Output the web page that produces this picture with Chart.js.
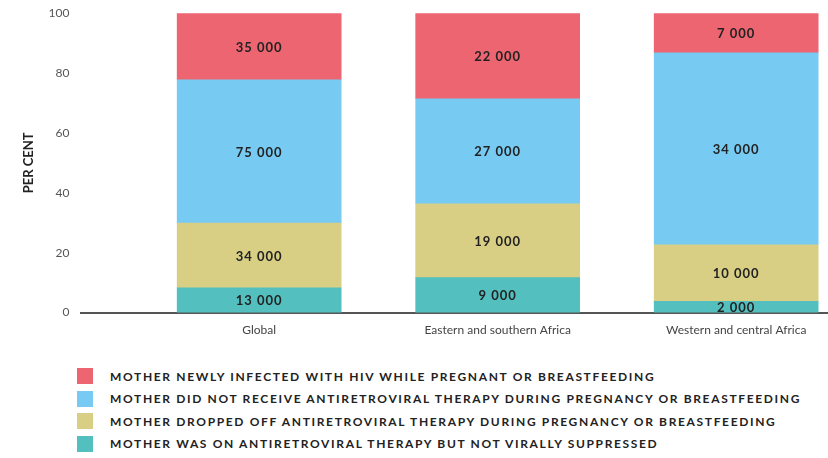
<!DOCTYPE html>
<html>
<head>
<meta charset="utf-8">
<script src="https://cdn.jsdelivr.net/npm/chart.js@4"></script>
<style>
  body { margin: 0; background: #fff; font-family: Lato, "Open Sans", sans-serif; }
  #wrap { position: relative; width: 828px; height: 458px; overflow: hidden; }
  #chartBox { position: absolute; left: 0; top: -6px; width: 828px; height: 353px; }
  #legend { position: absolute; left: 77px; top: 365px; }
  .item { height: 22.5px; display: flex; align-items: center; }
  .box { width: 16px; height: 16px; margin-right: 17px; }
  .txt { font-weight: bold; font-size: 12px; letter-spacing: 1.65px; color: #222; }
</style>
</head>
<body>
<div id="wrap">
  <div id="chartBox"><canvas id="grafico"></canvas></div>
  <div id="legend"></div>
</div>
<script>
// categorias e valores (numero de criancas)
const categorias = ['Global', 'Eastern and southern Africa', 'Western and central Africa'];
const naoSuprimida = [13000, 9000, 2000];
const abandonou = [34000, 19000, 10000];
const naoRecebeu = [75000, 27000, 34000];
const novaInfeccao = [35000, 22000, 7000];
const ticksY = [0, 20, 40, 60, 80, 100];

const series = [
  { label: 'MOTHER WAS ON ANTIRETROVIRAL THERAPY BUT NOT VIRALLY SUPPRESSED', valores: naoSuprimida, cor: '#53bfbf' },
  { label: 'MOTHER DROPPED OFF ANTIRETROVIRAL THERAPY DURING PREGNANCY OR BREASTFEEDING', valores: abandonou, cor: '#d8cf85' },
  { label: 'MOTHER DID NOT RECEIVE ANTIRETROVIRAL THERAPY DURING PREGNANCY OR BREASTFEEDING', valores: naoRecebeu, cor: '#77cbf3' },
  { label: 'MOTHER NEWLY INFECTED WITH HIV WHILE PREGNANT OR BREASTFEEDING', valores: novaInfeccao, cor: '#ec6571' }
];

// total por categoria para converter em porcentagem
const totais = categorias.map((c, i) => series.reduce((s, d) => s + d.valores[i], 0));

function formatar(n) {
  return String(n).replace(/\B(?=(\d{3})+(?!\d))/g, ' ');
}

// plugin para escrever os numeros dentro das barras
const rotulos = {
  id: 'rotulos',
  afterDatasetsDraw(chart) {
    const ctx = chart.ctx;
    ctx.save();
    ctx.font = 'bold 13px Lato, "Open Sans", sans-serif';
    ctx.letterSpacing = '1px';
    ctx.fillStyle = '#222';
    ctx.textAlign = 'center';
    ctx.textBaseline = 'middle';
    chart.data.datasets.forEach((ds, i) => {
      const meta = chart.getDatasetMeta(i);
      meta.data.forEach((bar, j) => {
        const p = bar.getCenterPoint();
        ctx.fillText(formatar(ds.contagens[j]), p.x, p.y + 1);
      });
    });
    ctx.restore();
  }
};

const ctx = document.getElementById('grafico').getContext('2d');
const grafico = new Chart(ctx, {
  type: 'bar',
  data: {
    datasets: series.map(s => ({
      label: s.label,
      data: s.valores.map((v, i) => ({ x: i, y: v / totais[i] * 100 })),
      contagens: s.valores,
      backgroundColor: s.cor,
      barThickness: 164
    }))
  },
  options: {
    responsive: true,
    maintainAspectRatio: false,
    animation: false,
    layout: { padding: { left: 21, top: 0, right: 0 } },
    plugins: { legend: { display: false }, tooltip: { enabled: false } },
    scales: {
      x: {
        type: 'linear',
        stacked: true,
        offset: false,
        min: -0.745,
        max: 2.385,
        afterBuildTicks: s => { s.ticks = [0, 1, 2].map(v => ({ value: v })); },
        ticks: {
          callback: v => categorias[v],
          font: { size: 12, family: 'Lato, "Open Sans", sans-serif' },
          color: '#444',
          padding: 10,
          maxRotation: 0
        },
        grid: { display: false, drawTicks: false, offset: false },
        border: { display: true, color: '#555', width: 2 }
      },
      y: {
        stacked: true,
        min: 0,
        max: 100,
        afterBuildTicks: s => { s.ticks = ticksY.map(v => ({ value: v })); },
        ticks: {
          font: { size: 12, family: 'Lato, "Open Sans", sans-serif' },
          color: '#555',
          padding: 12
        },
        grid: { display: false, drawTicks: false },
        border: { display: false },
        title: {
          display: true,
          text: 'PER CENT',
          padding: { top: 0, bottom: 0 },
          font: { size: 13, weight: 'bold', family: 'Lato, "Open Sans", sans-serif' },
          color: '#222'
        }
      }
    }
  },
  plugins: [rotulos]
});

// legenda em html, de cima para baixo
const legenda = document.getElementById('legend');
series.slice().reverse().forEach(s => {
  const div = document.createElement('div');
  div.className = 'item';
  div.innerHTML = '<span class="box" style="background:' + s.cor + '"></span><span class="txt">' + s.label + '</span>';
  legenda.appendChild(div);
});
</script>
</body>
</html>
